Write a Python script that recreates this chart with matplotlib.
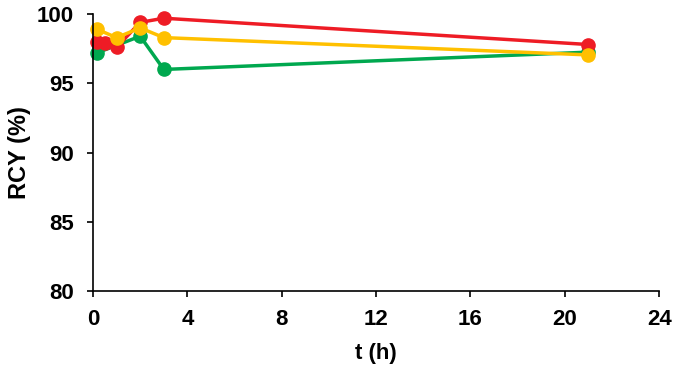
import matplotlib
matplotlib.use('Agg')
import matplotlib.pyplot as plt

# ===== data =====
t_red = [0.17, 0.5, 1, 2, 3, 21]
rcy_red = [98.0, 97.9, 97.6, 99.4, 99.7, 97.8]

t_yellow = [0.17, 1, 2, 3, 21]
rcy_yellow = [98.9, 98.3, 99.0, 98.3, 97.05]

t_green = [0.17, 2, 3, 21]
rcy_green = [97.2, 98.4, 96.0, 97.25]

x_ticks = [0, 4, 8, 12, 16, 20, 24]
y_ticks = [80, 85, 90, 95, 100]

plt.rcParams['font.family'] = ['Liberation Sans', 'DejaVu Sans']
plt.rcParams['font.weight'] = 'bold'

fig = plt.figure(figsize=(6.74, 3.70), dpi=100)
ax = fig.add_axes([0.138, 0.2135, 0.840, 0.7485])

# draw order: green under red under yellow
for tt, yy, c in [(t_green, rcy_green, '#00A84F'),
                  (t_red, rcy_red, '#EE1C25'),
                  (t_yellow, rcy_yellow, '#FFC000')]:
    ax.plot(tt, yy, '-o', color=c, lw=2.5, ms=9.5, mec=c, clip_on=False)

ax.set_xlim(0, 24)
ax.set_ylim(80, 100)
ax.set_xticks(x_ticks)
ax.set_yticks(y_ticks)

for s in ['top', 'right']:
    ax.spines[s].set_visible(False)
for s in ['left', 'bottom']:
    ax.spines[s].set_linewidth(1.2)
    ax.spines[s].set_color('black')

ax.tick_params(direction='out', length=4, width=1.2, labelsize=16)
ax.tick_params(axis='y', pad=10)
ax.tick_params(axis='x', pad=9)
for lbl in ax.get_xticklabels() + ax.get_yticklabels():
    lbl.set_fontweight('bold')

ax.set_xlabel('t (h)', fontsize=16, fontweight='bold', labelpad=9)
ax.set_ylabel('RCY (%)', fontsize=17, fontweight='bold', labelpad=4)

fig.savefig('out.png', dpi=100, facecolor='white')
